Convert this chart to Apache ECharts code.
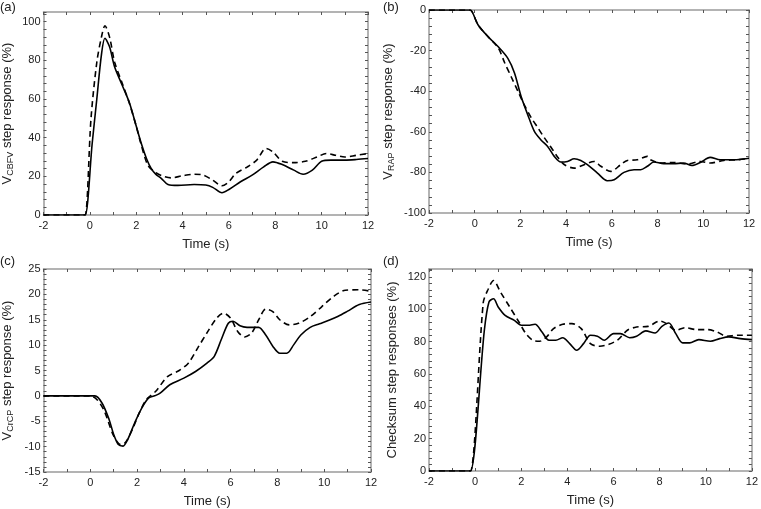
<!DOCTYPE html>
<html>
<head>
<meta charset="utf-8">
<script src="https://cdn.jsdelivr.net/npm/echarts@6/dist/echarts.min.js"></script>
<style>html,body{margin:0;padding:0;background:#fff}#c{width:761px;height:509px}</style>
</head>
<body>
<div id="c"></div>
<script>
// ---- data ----
var xTicks = [-2, 0, 2, 4, 6, 8, 10, 12];
var panelLabels = ['(a)', '(b)', '(c)', '(d)'];

var aSolidX = [-2, -0.3, -0.2, 0.1, 0.3, 0.5, 0.65, 0.85, 1.07, 1.4, 1.72, 2.0, 2.22, 2.45, 2.65, 2.85, 3.08, 3.37, 3.8, 4.5, 5.0, 5.3, 5.7, 6.0, 6.5, 7.0, 7.5, 7.9, 8.3, 8.8, 9.2, 9.6, 10.0, 10.4, 11.0, 11.5, 12];
var aSolidY = [0, 0, 0, 37, 60, 83, 91.4, 87, 76.5, 67, 57.6, 46, 37, 29, 24, 21, 19, 15.8, 15.3, 15.8, 15.5, 14.3, 11.5, 13.2, 17.2, 20.6, 24.9, 27.5, 26.1, 23.2, 21.1, 23.2, 27.8, 28.4, 28.4, 28.7, 29.2];
var aDashX = [-2, -0.3, -0.2, 0.05, 0.3, 0.5, 0.65, 0.85, 1.07, 1.4, 1.7, 2.0, 2.2, 2.5, 2.8, 3.1, 3.5, 4.0, 4.5, 4.9, 5.3, 5.7, 6.0, 6.3, 6.8, 7.2, 7.6, 7.9, 8.3, 8.8, 9.3, 9.8, 10.2, 10.6, 11.0, 11.5, 12];
var aDashY = [0, 0, 0, 50, 79, 92, 97.9, 92, 79, 68, 58, 46, 37, 25.8, 22.3, 20.3, 19.2, 20.3, 21.1, 20.6, 18, 15.1, 17.2, 21.5, 24.9, 28.4, 34.4, 32.6, 27.8, 27.1, 27.8, 30, 31.8, 30.9, 30, 30.9, 31.8];

var bSolidX = [-2, -0.3, -0.2, 0.15, 0.58, 1.02, 1.45, 1.74, 2.03, 2.32, 2.61, 2.9, 3.19, 3.48, 3.77, 4.06, 4.35, 4.64, 4.93, 5.37, 5.8, 6.1, 6.53, 6.97, 7.26, 7.55, 7.84, 8.27, 8.7, 9.14, 9.5, 9.87, 10.3, 10.74, 11.32, 12];
var bSolidY = [0, 0, 0, -7.4, -13.1, -18, -23.8, -31, -42.6, -51.6, -59.8, -64, -67.2, -72.1, -74.9, -74.6, -73.3, -74.1, -76.2, -80.3, -84.1, -83.6, -80, -78.7, -78.7, -77, -74.9, -75.7, -75.7, -75.4, -76.6, -75.1, -72.6, -73.8, -73.8, -73];
var bDashX = [-2, -0.3, -0.2, 0.15, 0.58, 1.02, 1.31, 1.6, 1.89, 2.18, 2.47, 2.76, 3.05, 3.3, 3.6, 3.9, 4.35, 4.79, 5.22, 5.52, 5.95, 6.39, 6.68, 7.11, 7.55, 7.69, 8.13, 8.7, 9.29, 9.87, 10.3, 10.9, 11.46, 12];
var bDashY = [0, 0, 0, -7.4, -13.1, -18.5, -26, -33, -40, -47, -53, -58, -63, -67, -72, -76, -77.9, -76.2, -74.6, -77, -79.5, -76.2, -74.1, -73.8, -72.1, -73.8, -75.4, -75.1, -75.9, -74.6, -75.4, -74.1, -73.8, -73];

var cSolidX = [-2, 0.2, 0.5, 0.8, 1.0, 1.2, 1.4, 1.6, 1.9, 2.2, 2.5, 2.8, 3.0, 3.4, 4.0, 4.5, 5.0, 5.3, 5.6, 5.9, 6.1, 6.4, 6.7, 7.0, 7.2, 7.5, 7.8, 8.1, 8.4, 8.7, 9.0, 9.4, 9.8, 10.2, 10.6, 11, 11.5, 12];
var cSolidY = [0, 0, -1.4, -4.6, -7.6, -9.6, -9.9, -8.6, -5.3, -2.4, -0.4, 0.1, 0.6, 2.2, 3.5, 4.8, 6.5, 7.8, 11.1, 14.3, 14.7, 13.8, 13.5, 13.5, 13.5, 12.0, 9.8, 8.4, 8.4, 10.1, 12, 13.5, 14.2, 14.9, 15.7, 16.7, 18, 18.5];
var cDashX = [-2, 0, 0.3, 0.6, 1.0, 1.3, 1.5, 1.8, 2.1, 2.4, 2.8, 3.3, 3.8, 4.2, 4.6, 5.0, 5.4, 5.7, 6.0, 6.3, 6.6, 6.9, 7.2, 7.5, 7.8, 8.1, 8.5, 8.9, 9.4, 9.9, 10.4, 10.9, 11.5, 12];
var cDashY = [0, 0, -0.8, -3, -7.9, -9.6, -9.2, -6.6, -3.3, -0.7, 0.9, 3.8, 5.0, 6.5, 9.5, 12.5, 15.3, 16.3, 15.3, 12.7, 11.6, 12.4, 15, 17.1, 16.6, 15, 14, 14.3, 15.6, 17.6, 19.6, 20.8, 20.9, 20.6];

var dSolidX = [-2, -0.3, -0.2, 0.4, 0.6, 0.8, 1.0, 1.3, 1.7, 2.0, 2.3, 2.6, 2.9, 3.2, 3.5, 3.8, 4.1, 4.4, 4.7, 5.0, 5.3, 5.6, 6.0, 6.3, 6.7, 7.0, 7.4, 7.8, 8.1, 8.4, 8.7, 9.0, 9.3, 9.7, 10.2, 10.6, 11, 11.5, 12];
var dSolidY = [0, 0, 0, 87.1, 104.6, 106.6, 101.5, 96.3, 93.2, 90.2, 90.2, 90.8, 86, 80.9, 80.9, 82.5, 78.8, 74.7, 78.8, 84, 83.4, 80.9, 85, 85, 82.5, 83.4, 86.7, 85.4, 89.5, 91.6, 85, 79.3, 79.3, 81.3, 80.3, 81.9, 83, 81.9, 81.3];
var dDashX = [-2, -0.3, -0.2, 0.35, 0.55, 0.8, 1.1, 1.5, 1.9, 2.2, 2.5, 2.8, 3.1, 3.4, 3.8, 4.2, 4.6, 5.0, 5.4, 5.8, 6.2, 6.6, 7.0, 7.5, 8.0, 8.3, 8.7, 9.1, 9.6, 10.1, 10.5, 10.9, 11.4, 12];
var dDashY = [0, 0, 0, 104, 112, 117.9, 110.7, 101.5, 92.2, 85, 80.9, 80.3, 83, 88.1, 90.8, 91.2, 88.1, 78.8, 77.2, 78.4, 81.3, 87.1, 89.1, 89.5, 92.8, 91.2, 87.1, 88.7, 87.5, 87.5, 86, 83.4, 84, 84];

// ---- layout ----
var FONT = 'Liberation Sans, Arial, sans-serif';
var TXT = '#222';
var grids = [
  {left: 42, top: 12, width: 326, height: 203},
  {left: 429, top: 10, width: 320, height: 203},
  {left: 42, top: 269, width: 329, height: 204},
  {left: 429, top: 269, width: 326, height: 202}
];
var yCfg = [
  {min: 0, max: 105, interval: 20, name: '{v|V}{s|CBFV}{v| step response (%)}', gap: 28},
  {min: -100, max: 0, interval: 20, name: '{v|V}{s|RAP}{v| step response (%)}', gap: 33},
  {min: -15, max: 25, interval: 5, name: '{v|V}{s|CrCP}{v| step response (%)}', gap: 28},
  {min: 0, max: 125, interval: 20, name: '{v|Checksum step responses (%)}', gap: 30}
];

function pair(xs, ys) { return xs.map(function (x, i) { return [x, ys[i]]; }); }
var seriesData = [
  [pair(aSolidX, aSolidY), pair(aDashX, aDashY)],
  [pair(bSolidX, bSolidY), pair(bDashX, bDashY)],
  [pair(cSolidX, cSolidY), pair(cDashX, cDashY)],
  [pair(dSolidX, dSolidY), pair(dDashX, dDashY)]
];

var axLine = {show: true, onZero: false, lineStyle: {color: '#9a9a9a', width: 1.5}};
var tick = {show: true, inside: true, length: 3, lineStyle: {color: '#555', width: 1}};
function minor(n) { return {show: true, splitNumber: n, length: 3, lineStyle: {color: '#555', width: 1}}; }

var xAxes = [], yAxes = [], series = [], graphics = [];
grids.forEach(function (g, i) {
  var yc = yCfg[i];
  xAxes.push({
    type: 'value', gridIndex: i, position: 'bottom', min: xTicks[0], max: xTicks[xTicks.length - 1], interval: 2,
    axisLine: axLine, axisTick: tick, minorTick: minor(2), splitLine: {show: false},
    axisLabel: {fontSize: 11, color: TXT, margin: 5, fontFamily: FONT},
    name: 'Time (s)', nameLocation: 'middle', nameGap: 23,
    nameTextStyle: {fontSize: 13, color: TXT, fontFamily: FONT}
  });
  xAxes.push({
    type: 'value', gridIndex: i, position: 'top', min: xTicks[0], max: xTicks[xTicks.length - 1], interval: 2,
    axisLine: axLine, axisTick: tick, minorTick: minor(2), splitLine: {show: false},
    axisLabel: {show: false}
  });
  yAxes.push({
    type: 'value', gridIndex: i, position: 'left', min: yc.min, max: yc.max, interval: yc.interval,
    axisLine: axLine, axisTick: tick, minorTick: minor(5), splitLine: {show: false},
    axisLabel: {fontSize: 11, color: TXT, margin: 3, fontFamily: FONT, showMaxLabel: (yc.max % yc.interval === 0) ? true : false},
    name: yc.name, nameLocation: 'middle', nameGap: yc.gap,
    nameTextStyle: {fontSize: 13, color: TXT, fontFamily: FONT,
      rich: {v: {fontSize: 13, color: TXT, fontFamily: FONT},
             s: {fontSize: 9, color: TXT, fontFamily: FONT, padding: [7, 0, 0, 0]}}}
  });
  yAxes.push({
    type: 'value', gridIndex: i, position: 'right', min: yc.min, max: yc.max, interval: yc.interval,
    axisLine: axLine, axisTick: tick, minorTick: minor(5), splitLine: {show: false},
    axisLabel: {show: false}
  });
  series.push({
    type: 'line', xAxisIndex: 2 * i, yAxisIndex: 2 * i, data: seriesData[i][0],
    showSymbol: false, smooth: 0.3, lineStyle: {color: '#000', width: 1.6}, z: 3
  });
  series.push({
    type: 'line', xAxisIndex: 2 * i, yAxisIndex: 2 * i, data: seriesData[i][1],
    showSymbol: false, smooth: 0.3, lineStyle: {color: '#000', width: 1.6, type: [6, 4]}, z: 2
  });
});

var labelPos = [[0, 1], [383, 1], [0, 255], [383, 255]];
panelLabels.forEach(function (t, i) {
  graphics.push({type: 'text', left: labelPos[i][0], top: labelPos[i][1],
    style: {text: t, fontSize: 13, fill: TXT, font: '13px ' + FONT}});
});

var chart = echarts.init(document.getElementById('c'), null, {renderer: 'canvas'});
chart.setOption({
  animation: false,
  backgroundColor: '#fff',
  grid: grids,
  xAxis: xAxes,
  yAxis: yAxes,
  series: series,
  graphic: graphics
});
</script>
</body>
</html>
